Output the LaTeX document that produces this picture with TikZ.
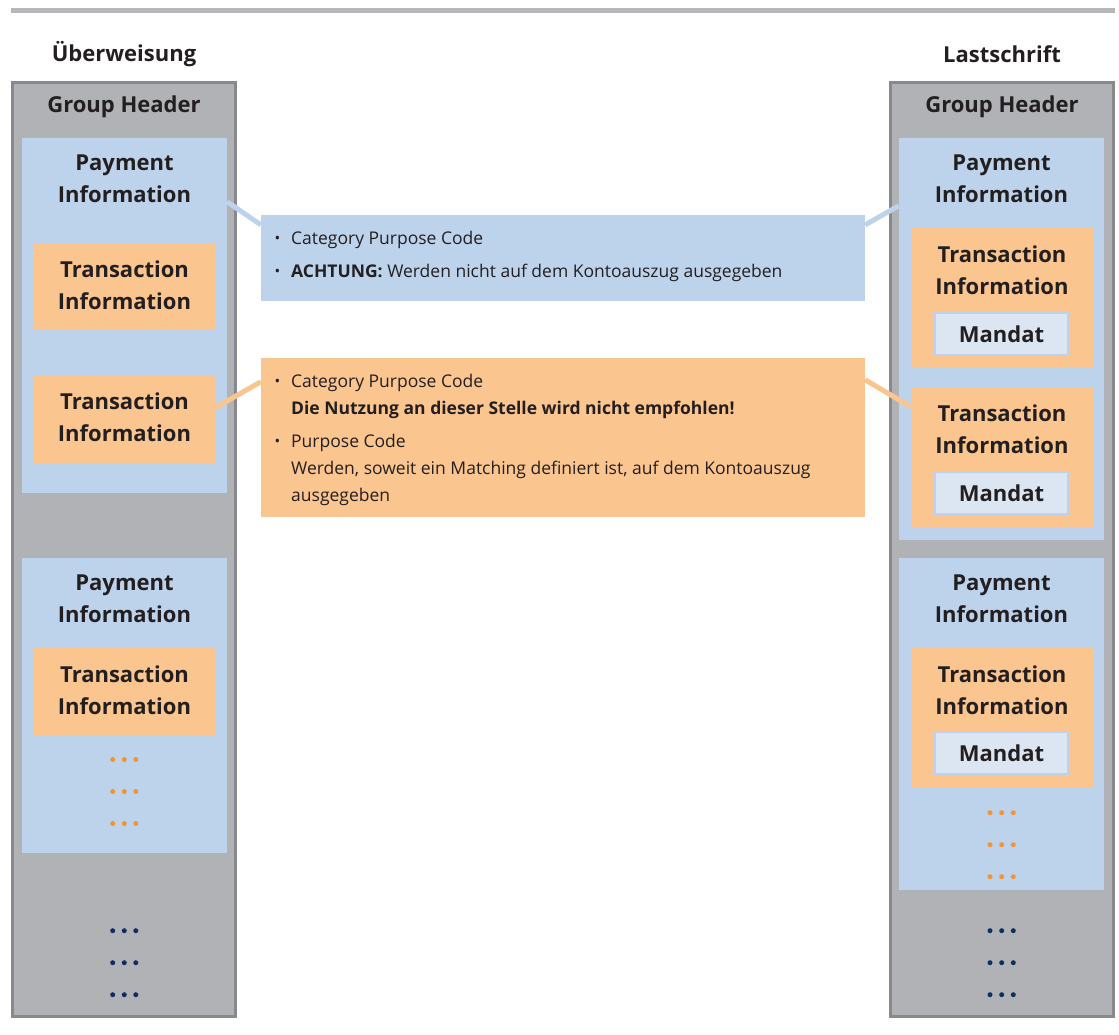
\documentclass[tikz,border=0pt]{standalone}
\usepackage{fontspec}
\setmainfont{Open Sans}
\definecolor{colgray}{HTML}{B1B2B5}
\definecolor{colgrayline}{HTML}{88898C}
\definecolor{coltop}{HTML}{B6B7BA}
\definecolor{colblue}{HTML}{BDD3EC}
\definecolor{colorange}{HTML}{FBC58F}
\definecolor{colmandat}{HTML}{DCE6F3}
\definecolor{coldotor}{HTML}{F39331}
\definecolor{coldotnavy}{HTML}{0E2F66}
\definecolor{coltext}{HTML}{231F20}
\tikzset{
  column/.style={draw=colgrayline, fill=colgray, line width=3pt, minimum width=223pt, minimum height=934pt, inner sep=0pt},
  paybox/.style={fill=colblue, minimum width=205pt, inner sep=0pt},
  transbox/.style={fill=colorange, minimum width=181pt, inner sep=0pt},
  mandatbox/.style={fill=colmandat, draw=colblue, line width=2pt, minimum width=133pt, minimum height=42pt, inner sep=0pt, font=\fontsize{22}{24}\selectfont\bfseries, text=coltext},
  calloutb/.style={fill=colblue, minimum width=604pt, minimum height=86pt, inner sep=0pt},
  callouto/.style={fill=colorange, minimum width=604pt, minimum height=159pt, inner sep=0pt},
  head/.style={font=\fontsize{22}{32}\selectfont\bfseries, text=coltext, align=center, inner sep=0pt},
  ctext/.style={font=\fontsize{17.5}{18}\selectfont, text=coltext, anchor=base west, inner sep=0pt},
  bul/.style={font=\fontsize{15}{18}\selectfont, text=coltext, anchor=base west, inner sep=0pt},
  odot/.style={circle, fill=coldotor, minimum size=5pt, inner sep=0pt},
  ndot/.style={circle, fill=coldotnavy, minimum size=5pt, inner sep=0pt},
  linkb/.style={draw=colblue, line width=5pt},
  linko/.style={draw=colorange, line width=5pt}
}
\begin{document}
\begin{tikzpicture}[x=1pt,y=-1pt]
\useasboundingbox (0,0) rectangle (1119,1034);
% top rule
\coordinate (tl) at (11,10.5);
\coordinate (tr) at (1115,10.5);
\draw[coltop, line width=5pt] (tl) -- (tr);

% titles
\node[head] (tU) at (124,54) {Überweisung};
\node[head] (tL) at (1002,54) {Lastschrift};

% left column
\node[column] (colL) at (124,549.5) {};
\node[head] (ghL) at (124,107) {Group Header};
\node[paybox, minimum height=355pt] (piL1) at (124.5,315.5) {};
\node[head] at (124.5,179) {Payment\\Information};
\node[transbox, minimum height=86pt] (tiL1) at (124.5,286) {};
\node[head] at (124.5,285) {Transaction\\Information};
\node[transbox, minimum height=87pt] (tiL2) at (124.5,419.5) {};
\node[head] at (124.5,417) {Transaction\\Information};
\node[paybox, minimum height=295pt] (piL2) at (124.5,705.5) {};
\node[head] at (124.5,599) {Payment\\Information};
\node[transbox, minimum height=87pt] (tiL3) at (124.5,691.5) {};
\node[head] at (124.5,690) {Transaction\\Information};
\foreach \y in {759.5,791.5,823.5}{
  \foreach \x in {112.7,124.3,135.8}{ \node[odot] at (\x,\y) {}; }
}
\foreach \y in {930.7,962.7,994.7}{
  \foreach \x in {112.7,124.3,135.8}{ \node[ndot] at (\x,\y) {}; }
}

% right column
\node[column] (colR) at (1002,549.5) {};
\node[head] (ghR) at (1002,107) {Group Header};
\node[paybox, minimum height=402pt] (piR1) at (1001.5,339) {};
\node[head] at (1001.5,179) {Payment\\Information};
\node[transbox, minimum width=182pt, minimum height=139pt] (tiR1) at (1002,297.5) {};
\node[head] at (1002,270) {Transaction\\Information};
\node[mandatbox] (mR1) at (1001.5,334) {Mandat};
\node[transbox, minimum width=182pt, minimum height=140pt] (tiR2) at (1002,457) {};
\node[head] at (1002,429) {Transaction\\Information};
\node[mandatbox] (mR2) at (1001.5,493) {Mandat};
\node[paybox, minimum height=332pt] (piR2) at (1001.5,724) {};
\node[head] at (1001.5,599) {Payment\\Information};
\node[transbox, minimum width=182pt, minimum height=139pt] (tiR3) at (1002,717.5) {};
\node[head] at (1002,690) {Transaction\\Information};
\node[mandatbox] (mR3) at (1001.5,753) {Mandat};
\foreach \y in {812.7,844.7,876.7}{
  \foreach \x in {990,1001.7,1013.3}{ \node[odot] at (\x,\y) {}; }
}
\foreach \y in {930.7,962.7,994.7}{
  \foreach \x in {990,1001.7,1013.3}{ \node[ndot] at (\x,\y) {}; }
}

% callouts
\node[calloutb] (cb) at (563,258) {};
\node[bul] (cb1b) at (274.5,243.5) {•};
\node[ctext] (cb1) at (291,244) {Category Purpose Code};
\node[bul] (cb2b) at (274.5,276.5) {•};
\node[ctext] (cb2) at (291,277) {\textbf{ACHTUNG:} Werden nicht auf dem Kontoauszug ausgegeben};

\node[callouto] (co) at (563,437.5) {};
\node[bul] (co1b) at (274.5,386.5) {•};
\node[ctext] (co1) at (291,387) {Category Purpose Code};
\node[ctext] (co2) at (291,414) {\textbf{Die Nutzung an dieser Stelle wird nicht empfohlen!}};
\node[bul] (co3b) at (274.5,446.5) {•};
\node[ctext] (co3) at (291,447) {Purpose Code};
\node[ctext] (co4) at (291,474) {Werden, soweit ein Matching definiert ist, auf dem Kontoauszug};
\node[ctext] (co5) at (291,501) {ausgegeben};

% connectors
\draw[linkb] ([yshift=-64pt]piL1.north east) -- ([yshift=-10pt]cb.north west);
\draw[linkb] ([yshift=-10pt]cb.north east) -- ([yshift=-68pt]piR1.north west);
\draw[linko] ([yshift=-24pt]co.north west) -- ([yshift=-32pt]tiL2.north east);
\draw[linko] ([yshift=-22pt]co.north east) -- ([yshift=-20pt]tiR2.north west);
\end{tikzpicture}
\end{document}
